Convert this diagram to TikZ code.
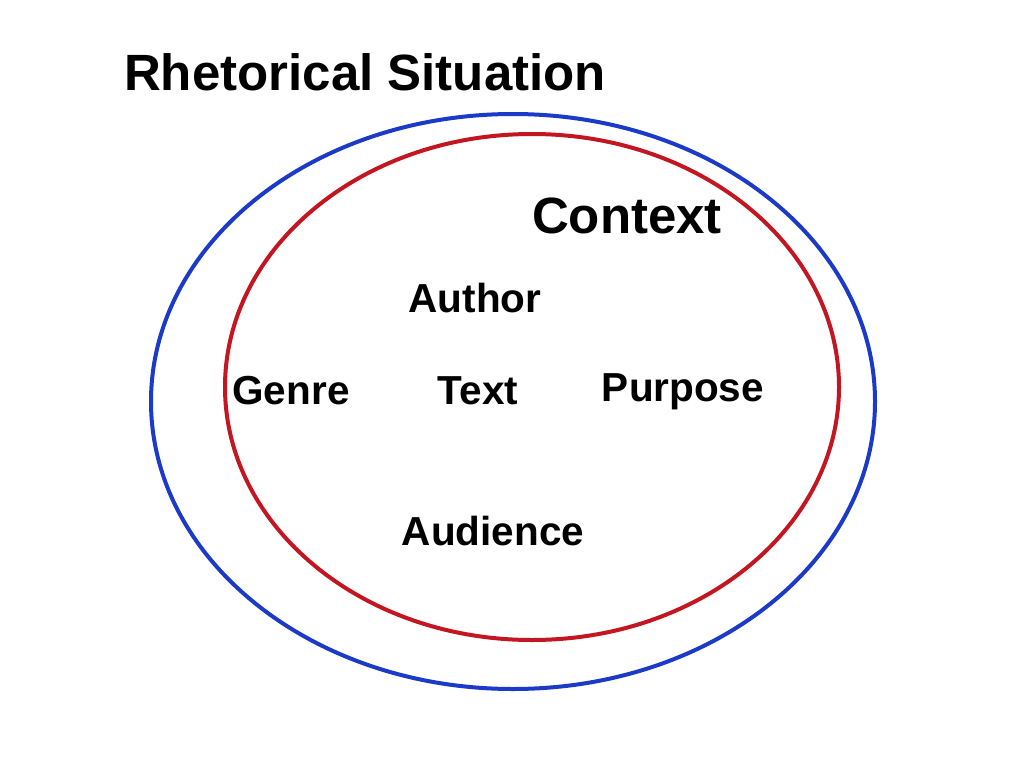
\documentclass[tikz,border=0pt]{standalone}
\usepackage{fontspec}
\setmainfont{Liberation Sans}
\definecolor{ringblue}{RGB}{28,58,200}
\definecolor{ringred}{RGB}{196,22,32}
\begin{document}
\begin{tikzpicture}[x=1pt,y=-1pt,
  big/.style={inner sep=0pt,anchor=base,font=\fontsize{51}{60}\selectfont\bfseries},
  lbl/.style={inner sep=0pt,anchor=base,font=\fontsize{40.5}{48}\selectfont\bfseries},
  ring/.style={line width=4pt}]
\useasboundingbox (0,0) rectangle (1024,768);
\draw[ring,ringblue] (513,401.5) ellipse [x radius=362, y radius=287.5];
\draw[ring,ringred] (532,387) ellipse [x radius=307, y radius=253];
\node[big] (title) at (365,90) {Rhetorical Situation};
\node[big] (context) at (627,233) {Context};
\node[lbl] (author) at (475,312) {Author};
\node[lbl] (genre) at (291,404) {Genre};
\node[lbl] (text) at (478,404) {Text};
\node[lbl] (purpose) at (683,401) {Purpose};
\node[lbl] (audience) at (493,545) {Audience};
\end{tikzpicture}
\end{document}
